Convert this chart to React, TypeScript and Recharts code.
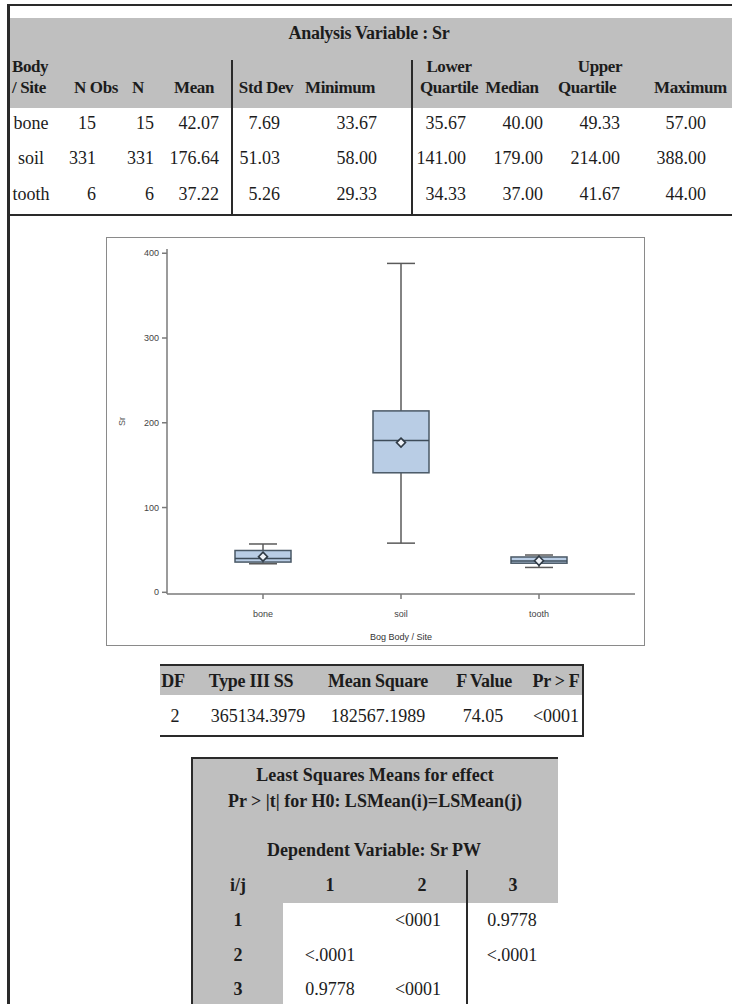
import React from "react";
import { ComposedChart, Bar, Scatter, XAxis, YAxis } from "recharts";

// summary statistics per body / site
const categories = ["bone", "soil", "tooth"];
const nObs = [15, 331, 6];
const nCounts = [15, 331, 6];
const means = [42.07, 176.64, 37.22];
const stdDevs = [7.69, 51.03, 5.26];
const minimums = [33.67, 58.0, 29.33];
const lowerQuartiles = [35.67, 141.0, 34.33];
const medians = [40.0, 179.0, 37.0];
const upperQuartiles = [49.33, 214.0, 41.67];
const maximums = [57.0, 388.0, 44.0];

const yTicks = [0, 100, 200, 300, 400];

const anovaHeaders = ["DF", "Type III SS", "Mean Square", "F Value", "Pr > F"];
const anovaValues = ["2", "365134.3979", "182567.1989", "74.05", "<0001"];

const lsIndex = ["1", "2", "3"];
const lsPValues = [
  ["", "<0001", "0.9778"],
  ["<.0001", "", "<.0001"],
  ["0.9778", "<0001", ""],
];

const boxData = categories.map((site, i) => ({
  site,
  min: minimums[i],
  q1: lowerQuartiles[i],
  median: medians[i],
  q3: upperQuartiles[i],
  max: maximums[i],
  mean: means[i],
}));

const SERIF = "'Liberation Serif', 'Times New Roman', serif";
const SANS = "'Liberation Sans', Arial, sans-serif";
const GRAY = "#bfbfbf";
const INK = "#1c1c1c";
const RULE = "#2a2a2a";

function Txt({ x, y, children, align = "center", bold = false, size = 18, tight = 0 }: any) {
  const tx = align === "center" ? "-50%" : align === "right" ? "-100%" : "0";
  return (
    <span
      style={{
        position: "absolute",
        left: x,
        top: y,
        transform: `translate(${tx}, -50%)`,
        fontWeight: bold ? 700 : 400,
        fontSize: size,
        letterSpacing: tight,
        lineHeight: 1,
        whiteSpace: "nowrap",
        color: INK,
      }}
    >
      {children}
    </span>
  );
}

function Block({ x, y, w, h, bg }: any) {
  return <div style={{ position: "absolute", left: x, top: y, width: w, height: h, background: bg }} />;
}

function BoxShape(props: any) {
  const { x, y, width, height, payload } = props;
  if (!payload) return null;
  const top = Math.min(y, y + height);
  const h = Math.abs(height);
  const toY = (v: number) => top + (h * (payload.max - v)) / (payload.max - payload.min);
  const cx = x + width / 2;
  const cap = width / 4;
  const w = { stroke: "#5a5a5a", strokeWidth: 1.5 };
  return (
    <g>
      <line x1={cx} x2={cx} y1={toY(payload.max)} y2={toY(payload.q3)} {...w} />
      <line x1={cx} x2={cx} y1={toY(payload.q1)} y2={toY(payload.min)} {...w} />
      <line x1={cx - cap} x2={cx + cap} y1={toY(payload.max)} y2={toY(payload.max)} {...w} />
      <line x1={cx - cap} x2={cx + cap} y1={toY(payload.min)} y2={toY(payload.min)} {...w} />
      <rect
        x={x}
        y={toY(payload.q3)}
        width={width}
        height={toY(payload.q1) - toY(payload.q3)}
        fill="#b9cde5"
        stroke="#4a5866"
        strokeWidth={1.5}
      />
      <line x1={x} x2={x + width} y1={toY(payload.median)} y2={toY(payload.median)} stroke="#3e4c5a" strokeWidth={1.5} />
    </g>
  );
}

function MeanDiamond(props: any) {
  const { cx, cy } = props;
  const r = 4.5;
  return (
    <polygon
      points={`${cx},${cy - r} ${cx + r},${cy} ${cx},${cy + r} ${cx - r},${cy}`}
      fill="#eef2f8"
      stroke="#2f3a45"
      strokeWidth={1.6}
    />
  );
}

function BoxPlot() {
  const tick = { fill: "#444", fontSize: 9, fontFamily: SANS };
  return (
    <ComposedChart width={537} height={407} data={boxData} margin={{ top: 11, right: 9, bottom: 0, left: 0 }}>
      <XAxis
        dataKey="site"
        type="category"
        padding={{ left: 27, right: 27 }}
        height={51}
        tickSize={5}
        tickMargin={12}
        stroke="#7a7a7a"
        strokeWidth={1.5}
        tick={tick}
        label={{ value: "Bog Body / Site", position: "insideBottom", offset: 5, fill: "#333", fontSize: 9, fontFamily: SANS }}
      />
      <XAxis xAxisId="top" dataKey="site" orientation="top" height={0} tick={false} tickLine={false} stroke="#7a7a7a" strokeWidth={1.5} />
      <YAxis
        type="number"
        domain={[-2, 405]}
        ticks={yTicks}
        allowDataOverflow
        width={60}
        tickSize={5}
        tickMargin={3}
        stroke="#7a7a7a"
        strokeWidth={1.5}
        tick={tick}
        label={{
          content: ({ viewBox }: any) => (
            <text
              x={viewBox.x + 15}
              y={viewBox.y + viewBox.height / 2}
              transform={`rotate(-90 ${viewBox.x + 15} ${viewBox.y + viewBox.height / 2})`}
              textAnchor="middle"
              dominantBaseline="central"
              fontSize={9}
              fontFamily={SANS}
              fill="#555"
            >
              Sr
            </text>
          ),
        }}
      />
      <YAxis yAxisId="right" orientation="right" width={0} domain={[-2, 405]} tick={false} tickLine={false} stroke="#7a7a7a" strokeWidth={1.5} />
      <Bar dataKey={(d: any) => [d.min, d.max]} barSize={56} shape={<BoxShape />} isAnimationActive={false} />
      <Scatter dataKey="mean" shape={<MeanDiamond />} isAnimationActive={false} />
    </ComposedChart>
  );
}

const topHeaders = ["N Obs", "N", "Mean", "Std Dev", "Minimum", "Quartile", "Median", "Quartile"];
const topHeaderX = [96, 138, 194, 266, 340, 449, 512, 587];
const topValueRight = [96, 154, 219, 280, 377, 466, 543, 620, 706];
const topRowY = [123, 158, 194];

export default function App() {
  const cols = [nObs, nCounts, means, stdDevs, minimums, lowerQuartiles, medians, upperQuartiles, maximums];
  return (
    <div
      style={{
        position: "absolute",
        left: 0,
        top: 0,
        width: 732,
        height: 1004,
        background: "#fff",
        overflow: "hidden",
        fontFamily: SERIF,
      }}
    >
      {/* outer frame */}
      <Block x={7} y={4} w={725} h={2} bg={RULE} />
      <Block x={7} y={4} w={3} h={1000} bg={RULE} />

      {/* summary table */}
      <Block x={10} y={18} w={722} h={90} bg={GRAY} />
      <Txt x={369} y={33} bold tight={-0.3}>Analysis Variable : Sr</Txt>
      <Txt x={12} y={66} align="left" bold size={17} tight={-0.4}>Body</Txt>
      <Txt x={12} y={87} align="left" bold size={17} tight={-0.4}>/ Site</Txt>
      <Txt x={449} y={66} bold size={17} tight={-0.4}>Lower</Txt>
      <Txt x={600} y={66} bold size={17} tight={-0.4}>Upper</Txt>
      {topHeaders.map((h, i) => (
        <Txt key={i} x={topHeaderX[i]} y={87} bold size={17} tight={-0.4}>{h}</Txt>
      ))}
      <Txt x={654} y={87} align="left" bold size={17} tight={-0.4}>Maximum</Txt>
      <Block x={231} y={60} w={2} h={155} bg={RULE} />
      <Block x={411} y={60} w={2} h={155} bg={RULE} />
      {categories.map((c, r) => (
        <React.Fragment key={c}>
          <Txt x={31} y={topRowY[r]}>{c}</Txt>
          {cols.map((col, k) => (
            <Txt key={k} x={topValueRight[k]} y={topRowY[r]} align="right">
              {k < 2 ? String(col[r]) : col[r].toFixed(2)}
            </Txt>
          ))}
        </React.Fragment>
      ))}
      <Block x={10} y={214} w={722} h={2} bg={RULE} />

      {/* box plot */}
      <div style={{ position: "absolute", left: 107, top: 238 }}>
        <BoxPlot />
      </div>
      <div
        style={{
          position: "absolute",
          left: 106,
          top: 237,
          width: 539,
          height: 409,
          border: "1.5px solid #8a8a8a",
          boxSizing: "border-box",
          pointerEvents: "none",
        }}
      />

      {/* type III test */}
      <Block x={160} y={665} w={422} h={30} bg={GRAY} />
      <Block x={160} y={664} w={424} h={2} bg={RULE} />
      <Block x={582} y={664} w={2} h={73} bg={RULE} />
      <Block x={160} y={735} w={424} h={2} bg={RULE} />
      {anovaHeaders.map((h, i) => (
        <Txt key={h} x={[173, 251, 378, 484, 556][i]} y={681} bold tight={-0.3}>{h}</Txt>
      ))}
      {anovaValues.map((v, i) => (
        <Txt key={i} x={[175, 258, 378, 483, 556][i]} y={716}>{v}</Txt>
      ))}

      {/* least squares means */}
      <Block x={192} y={758} w={366} h={145} bg={GRAY} />
      <Block x={192} y={903} w={91} h={101} bg={GRAY} />
      <Block x={191} y={757} w={2} h={247} bg={RULE} />
      <Block x={191} y={757} w={367} h={2} bg={RULE} />
      <Txt x={375} y={775} bold>Least Squares Means for effect</Txt>
      <Txt x={375} y={801} bold>Pr &gt; |t| for H0: LSMean(i)=LSMean(j)</Txt>
      <Txt x={374} y={850} bold>Dependent Variable: Sr PW</Txt>
      <Txt x={238} y={885} bold>i/j</Txt>
      {lsIndex.map((h, i) => (
        <Txt key={h} x={[330, 422, 513][i]} y={885} bold>{h}</Txt>
      ))}
      <Block x={466} y={870} w={2} h={134} bg={RULE} />
      {lsIndex.map((h, r) => (
        <React.Fragment key={h}>
          <Txt x={238} y={[920, 955, 989][r]} bold>{h}</Txt>
          {lsPValues[r].map((v, c) => (
            <Txt key={c} x={[330, 418, 512][c]} y={[920, 955, 989][r]}>{v}</Txt>
          ))}
        </React.Fragment>
      ))}
    </div>
  );
}
